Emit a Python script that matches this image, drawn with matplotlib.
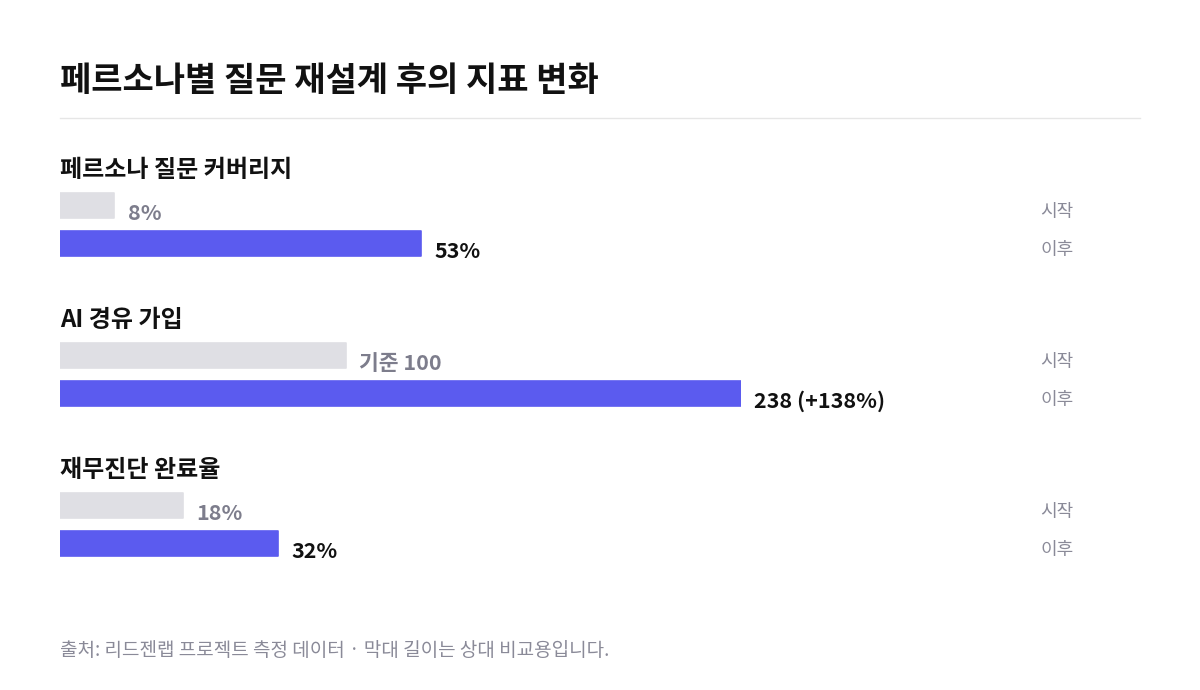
import numpy as np
import matplotlib.pyplot as plt

plt.rcParams['font.family'] = ['Noto Sans CJK KR', 'DejaVu Sans']

# 데이터
title = '페르소나별 질문 재설계 후의 지표 변화'
metrics = ['페르소나 질문 커버리지', 'AI 경유 가입', '재무진단 완료율']
before = [8, 100, 18]
after = [53, 238, 32]
scale_max = [100, 238, 100]
before_labels = ['8%', '기준 100', '18%']
after_labels = ['53%', '238 (+138%)', '32%']
note = '출처: 리드젠랩 프로젝트 측정 데이터 · 막대 길이는 상대 비교용입니다.'

W, H = 1200, 690
fig = plt.figure(figsize=(12, 6.9), dpi=100)
fig.patch.set_facecolor('white')

# 막대 영역: x는 0~100, y는 픽셀 좌표
ax = fig.add_axes([60 / W, 0, 681 / W, 1])
ax.set_xlim(0, 100)
ax.set_ylim(H, 0)
ax.axis('off')

grey = '#dfdfe4'
blue = '#5b5bef'
grey_txt = '#7d7d8c'
dark = '#111111'

fig.text(60 / W, 1 - 80 / H, title, fontsize=24.5, fontweight='bold',
         color=dark, va='center', ha='left')
fig.add_artist(plt.Line2D([60 / W, 1140 / W], [1 - 118 / H, 1 - 118 / H],
                          color='#e6e6e6', lw=1))

for i, name in enumerate(metrics):
    top = 170 + 150 * i
    fig.text(60 / W, 1 - top / H, name, fontsize=17.3, fontweight='bold',
             color=dark, va='center', ha='left')
    yb, ya = top + 35, top + 73
    wb = before[i] / scale_max[i] * 100
    wa = after[i] / scale_max[i] * 100
    ax.barh(yb, wb, height=25, left=0, color=grey, edgecolor=grey,
            linewidth=1.2, joinstyle='round')
    ax.barh(ya, wa, height=25, left=0, color=blue, edgecolor=blue,
            linewidth=1.2, joinstyle='round')
    ax.annotate(before_labels[i], (wb, yb + 8), xytext=(9.5, 0),
                textcoords='offset points', va='center', ha='left',
                fontsize=15.5, fontweight='bold', color=grey_txt)
    ax.annotate(after_labels[i], (wa, ya + 8), xytext=(9.5, 0),
                textcoords='offset points', va='center', ha='left',
                fontsize=15.5, fontweight='bold', color=dark)
    fig.text(1040 / W, 1 - (yb + 7) / H, '시작', fontsize=13,
             color='#8a8a98', va='center', ha='left')
    fig.text(1040 / W, 1 - (ya + 7) / H, '이후', fontsize=13,
             color='#8a8a98', va='center', ha='left')

fig.text(60 / W, 1 - 650 / H, note, fontsize=13.7, color='#8a8a98',
         va='center', ha='left')

fig.savefig('out.png', dpi=100, facecolor='white')
